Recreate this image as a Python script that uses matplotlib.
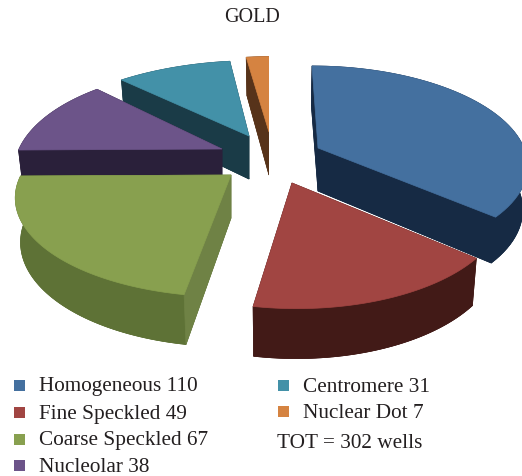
import numpy as np
import matplotlib
matplotlib.use('Agg')
import matplotlib.pyplot as plt
from matplotlib.patches import Polygon, Rectangle

labels = ['Homogeneous', 'Fine Speckled', 'Coarse Speckled', 'Nucleolar', 'Centromere', 'Nuclear Dot']
values = [110, 49, 67, 38, 31, 7]
top_colors = ['#44709F', '#A14542', '#88A04F', '#6C5489', '#4391A8', '#D58341']
side_colors = ['#162A44', '#421A17', '#5E7236', '#2A203A', '#1A3B47', '#57331A']
wall_colors = ['#162A44', '#421A17', '#6F8245', '#2A203A', '#1A3B47', '#57331A']

# exploded apex of each slice, in pixels
apex = [(318, 148), (292, 183), (231, 175), (222, 149), (249, 136), (269, 132)]
draw_order = [5, 4, 3, 0, 2, 1]

# per slice shape, the real chart has a perspective that one ellipse can't quite do
rx = [206, 206, 210, 203, 215, 215]
ry = [94.6, 98, 95, 98, 92, 92]
persp = [0.153, 0.22, 0.22, 0.22, 0.22, 0.22]
lean = [273, 275, 240, 222, 285, 285]   # x the far points lean towards
depth = 43

plt.rcParams['font.family'] = ['Liberation Serif', 'DejaVu Serif']
fig = plt.figure(figsize=(5.22, 4.76), dpi=100)
ax = fig.add_axes([0, 0, 1, 1])
ax.set_xlim(0, 522)
ax.set_ylim(476, 0)
ax.axis('off')


def rim(t, i):
    ax0, ay0 = apex[i]
    s = 1 / (1 + persp[i] * np.cos(t))
    x = ax0 + rx[i] * np.sin(t) * s + (lean[i] - ax0) * (1 - s)
    y = ay0 - ry[i] * np.cos(t) * s
    d = depth * s ** 0.6
    return np.column_stack([x, y]), np.column_stack([x + (280 - x) * 0.02, y + d])


bounds = np.cumsum([0] + values) / sum(values) * 2 * np.pi
clip = Rectangle((0, 0), 269, 476, transform=ax.transData)

for i in draw_order:
    t = np.linspace(bounds[i], bounds[i + 1], 60)
    top, bot = rim(t, i)
    a_top = np.array([apex[i]], dtype=float)
    a_bot = a_top + [0, depth]
    kw = dict(facecolor=side_colors[i], edgecolor=side_colors[i], linewidth=0.5)
    parts = [
        ax.add_patch(Polygon(np.vstack([a_bot, bot]), closed=True, **kw)),
        ax.add_patch(Polygon(np.vstack([top, bot[::-1]]), closed=True, **kw)),
        ax.add_patch(Polygon(np.vstack([a_top, top[-1:], bot[-1:], a_bot]), closed=True, **kw)),
        ax.add_patch(Polygon(np.vstack([a_top, top[:1], bot[:1], a_bot]), closed=True,
                             facecolor=wall_colors[i], edgecolor=wall_colors[i], linewidth=0.5)),
        ax.add_patch(Polygon(np.vstack([a_top, top]), closed=True, facecolor=top_colors[i],
                             edgecolor=top_colors[i], linewidth=0.5)),
    ]
    # the dot slice is cut off straight on its right side
    if labels[i] == 'Nuclear Dot':
        for p in parts:
            p.set_clip_path(clip)

ax.text(252, 17.5, 'GOLD', ha='center', va='center', fontsize=14.5, color='#231F20')

legend_pos = [(14, 385), (14, 412), (14, 439), (14, 465), (278, 385), (278, 411)]
for name, val, col, (lx, ly) in zip(labels, values, top_colors, legend_pos):
    ax.add_patch(Rectangle((lx, ly - 5.5), 11, 11, facecolor=col, edgecolor='none'))
    ax.text(lx + 25, ly + 2, f'{name} {val}', ha='left', va='center', fontsize=15.3, color='#231F20')

ax.text(277, 443, f'TOT = {sum(values)} wells', ha='left', va='center', fontsize=15.3, color='#231F20')

fig.savefig('out.png', dpi=100)
